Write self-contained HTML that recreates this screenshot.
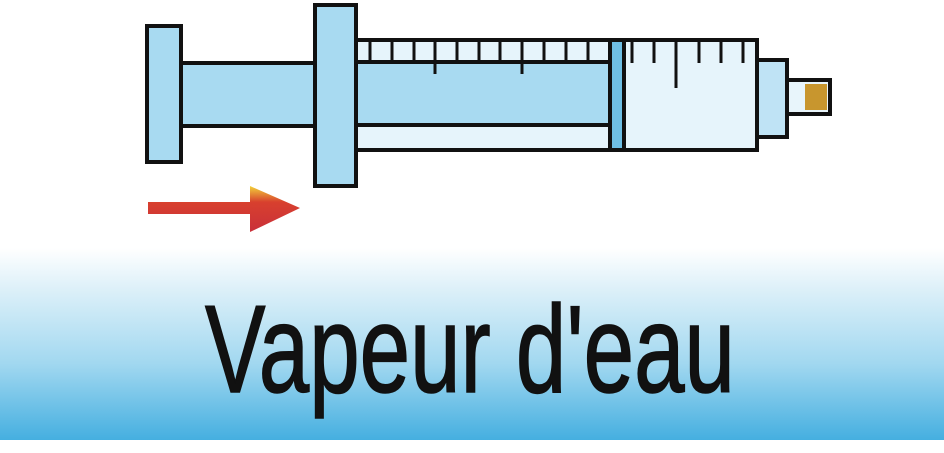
<!DOCTYPE html>
<html><head><meta charset="utf-8"><style>
html,body{margin:0;padding:0;background:#fff;width:944px;height:453px;overflow:hidden}
svg{display:block}
</style></head><body>
<svg width="944" height="453" viewBox="0 0 944 453">
<defs>
<linearGradient id="band" x1="0" y1="0" x2="0" y2="1">
<stop offset="0" stop-color="#ffffff"/>
<stop offset="0.2" stop-color="#dff1f9"/>
<stop offset="0.6" stop-color="#a2d8f0"/>
<stop offset="1" stop-color="#45afe0"/>
</linearGradient>
<linearGradient id="arrowg" x1="0" y1="0" x2="0" y2="1">
<stop offset="0" stop-color="#f2d23a"/>
<stop offset="0.35" stop-color="#d8402e"/>
<stop offset="1" stop-color="#c9303a"/>
</linearGradient>
</defs>
<rect x="0" y="248" width="944" height="192" fill="url(#band)"/>
<text x="205" y="392" font-family="'Liberation Sans',sans-serif" font-size="124" fill="#111" stroke="#111" stroke-width="1.5" textLength="530" lengthAdjust="spacingAndGlyphs">Vapeur d'eau</text>

<g stroke="#111" stroke-width="4">
<rect x="356" y="40" width="401" height="110" fill="#e6f4fb"/>
<rect x="356" y="62" width="256" height="63" fill="#a8daf1"/>
<rect x="181" y="63" width="136" height="63" fill="#a8daf1"/>
<rect x="147" y="26" width="34" height="136" fill="#a8daf1"/>
<rect x="315" y="5" width="41" height="181" fill="#a8daf1"/>
<rect x="610" y="40" width="14" height="110" fill="#6fbfe4"/>
<rect x="757" y="60" width="30" height="77" fill="#bfe3f5"/>
<rect x="787" y="80" width="43" height="34" fill="#e8f5fb"/>
</g>
<rect x="805" y="84" width="22" height="26" fill="#c8962e"/>
<g stroke="#111" stroke-width="3">
<line x1="370" y1="40" x2="370" y2="62"/><line x1="392" y1="40" x2="392" y2="62"/><line x1="414" y1="40" x2="414" y2="62"/>
<line x1="435" y1="40" x2="435" y2="74"/><line x1="457" y1="40" x2="457" y2="62"/><line x1="479" y1="40" x2="479" y2="62"/>
<line x1="500" y1="40" x2="500" y2="62"/><line x1="522" y1="40" x2="522" y2="74"/><line x1="544" y1="40" x2="544" y2="62"/>
<line x1="566" y1="40" x2="566" y2="62"/><line x1="588" y1="40" x2="588" y2="62"/>
<line x1="632" y1="40" x2="632" y2="63"/><line x1="654" y1="40" x2="654" y2="63"/><line x1="676" y1="40" x2="676" y2="88"/>
<line x1="699" y1="40" x2="699" y2="63"/><line x1="721" y1="40" x2="721" y2="63"/><line x1="743" y1="40" x2="743" y2="63"/>
</g>
<polygon points="148,202 250,202 250,186 300,208 250,232 250,214 148,214" fill="url(#arrowg)"/>
</svg>
</body></html>
